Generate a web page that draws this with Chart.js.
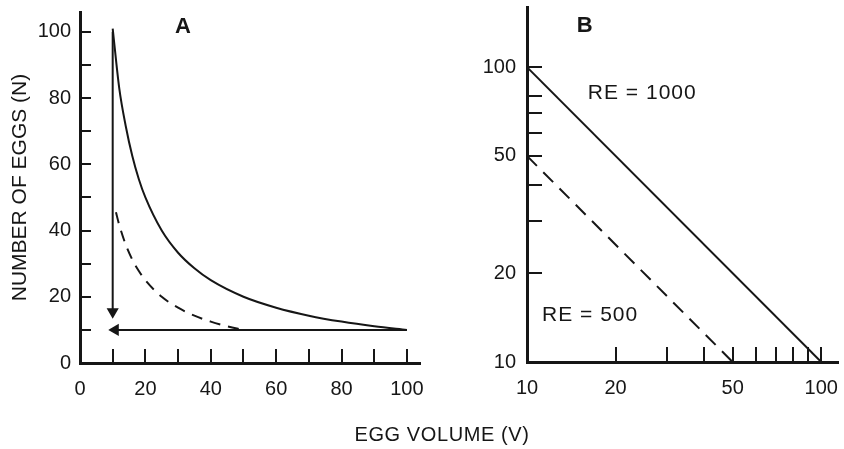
<!DOCTYPE html>
<html>
<head>
<meta charset="utf-8">
<script src="https://cdn.jsdelivr.net/npm/chart.js@4.4.0/dist/chart.umd.min.js"></script>
<style>
  body { margin: 0; background: #fff; }
  #wrap { position: relative; width: 844px; height: 449px; }
  .panel { position: absolute; top: 0; height: 449px; }
  #panelA { left: 0; width: 430px; }
  #panelB { left: 430px; width: 414px; }
  #xtitle { position: absolute; left: 0; width: 884px; top: 423px; text-align: center;
            font: 20px "Liberation Sans", Arial, sans-serif; letter-spacing: 0.6px; color: #161616; }
</style>
</head>
<body>
<div id="wrap">
  <div class="panel" id="panelA"><canvas id="chartA"></canvas></div>
  <div class="panel" id="panelB"><canvas id="chartB"></canvas></div>
  <div id="xtitle">EGG VOLUME (V)</div>
</div>
<script>
// panel A, linear axes
var volA1000 = [10, 12, 14, 16, 18, 20, 25, 30, 35, 40, 50, 60, 70, 80, 90, 100];
var eggsA1000 = [101, 83, 71.5, 62.5, 55.5, 50, 40, 33.3, 28.6, 25, 20, 16.7, 14.3, 12.5, 11.1, 10];
var volA500 = [11, 12, 14, 16, 18, 20, 25, 30, 35, 40, 45, 50];
var eggsA500 = [45.5, 41.7, 35.7, 31.2, 27.8, 25, 20, 16.7, 14.3, 12.5, 11.1, 10];
var arrowDownV = [10, 10];
var arrowDownN = [100, 15.5];
var arrowLeftV = [100, 10.8];
var arrowLeftN = [10, 10];
var ticksAX = [0, 20, 40, 60, 80, 100];
var ticksAY = [0, 20, 40, 60, 80, 100];
var marksA = [10, 20, 30, 40, 50, 60, 70, 80, 90, 100];

// panel B, log-log axes
var volB1000 = [10, 100];
var eggsB1000 = [100, 10];
var volB500 = [10, 50];
var eggsB500 = [50, 10];
var ticksB = [10, 20, 50, 100];
var marksBX = [20, 30, 40, 50, 60, 70, 80, 90, 100];
var marksBY = [20, 30, 40, 50, 60, 70, 80, 100];

var ink = '#161616';
var fontFam = '"Liberation Sans", Arial, sans-serif';

function pts(xs, ys) {
    return xs.map(function (x, i) { return { x: x, y: ys[i] }; });
}

// inward tick marks and the text inside the plot
var inkPlugin = {
    id: 'ink',
    afterDatasetsDraw: function (chart, args, opts) {
        var ctx = chart.ctx, xs = chart.scales.x, ys = chart.scales.y, a = chart.chartArea;
        ctx.save();
        ctx.strokeStyle = ink;
        ctx.lineWidth = 2;
        ctx.beginPath();
        opts.xMarks.forEach(function (v) {
            var px = Math.round(xs.getPixelForValue(v));
            ctx.moveTo(px, a.bottom);
            ctx.lineTo(px, a.bottom - opts.xLen);
        });
        opts.yMarks.forEach(function (v) {
            var py = Math.round(ys.getPixelForValue(v));
            ctx.moveTo(a.left, py);
            ctx.lineTo(a.left + opts.yLen, py);
        });
        ctx.stroke();
        ctx.fillStyle = ink;
        ctx.textBaseline = 'middle';
        opts.labels.forEach(function (l) {
            ctx.font = l.font;
            ctx.textAlign = l.align;
            ctx.letterSpacing = l.spacing || '0px';
            ctx.fillText(l.text, xs.getPixelForValue(l.x), ys.getPixelForValue(l.y));
        });
        ctx.restore();
    }
};

function axis(type, min, max, tickVals, pad, size, horizontal, title) {
    return {
        type: type,
        min: min,
        max: max,
        afterBuildTicks: function (s) {
            s.ticks = tickVals.map(function (v) { return { value: v }; });
        },
        afterFit: function (s) {
            if (horizontal) s.height = size; else s.width = size;
            s.paddingTop = s.paddingBottom = s.paddingLeft = s.paddingRight = 0;
        },
        grid: { drawOnChartArea: false, drawTicks: false },
        border: { color: ink, width: 3 },
        ticks: {
            padding: pad,
            color: ink,
            maxRotation: 0,
            autoSkip: false,
            font: { family: fontFam, size: 20 },
            callback: function (v) { return String(v); }
        },
        title: title ? {
            display: true,
            text: title,
            color: ink,
            font: { family: fontFam, size: 21 },
            padding: { top: 8, bottom: 0 }
        } : { display: false }
    };
}

var chartA = new Chart(document.getElementById('chartA'), {
    type: 'line',
    data: {
        datasets: [{
            data: pts(volA1000, eggsA1000),
            borderColor: ink,
            borderWidth: 2,
            cubicInterpolationMode: 'monotone',
            pointRadius: 0
        }, {
            data: pts(volA500, eggsA500),
            borderColor: ink,
            borderWidth: 2,
            borderDash: [11, 8],
            cubicInterpolationMode: 'monotone',
            pointRadius: 0
        }, {
            data: pts(arrowDownV, arrowDownN),
            borderColor: ink,
            borderWidth: 2,
            pointStyle: 'triangle',
            pointRadius: [0, 5],
            pointRotation: 180,
            pointBackgroundColor: ink,
            pointBorderColor: ink
        }, {
            data: pts(arrowLeftV, arrowLeftN),
            borderColor: ink,
            borderWidth: 2,
            pointStyle: 'triangle',
            pointRadius: [0, 5],
            pointRotation: 270,
            pointBackgroundColor: ink,
            pointBorderColor: ink
        }]
    },
    options: {
        responsive: true,
        maintainAspectRatio: false,
        animation: false,
        layout: { padding: { top: 12, right: 10, left: 0, bottom: 0 } },
        scales: {
            x: axis('linear', 0, 104, ticksAX, 14, 86, true),
            y: axis('linear', 0, 106, ticksAY, 9, 80, false, 'NUMBER OF EGGS (N)')
        },
        plugins: {
            legend: { display: false },
            tooltip: { enabled: false },
            ink: {
                xMarks: marksA, yMarks: marksA, xLen: 14, yLen: 11,
                labels: [{ text: 'A', x: 31.5, y: 101.5, align: 'center', font: 'bold 22px ' + fontFam }]
            }
        }
    },
    plugins: [inkPlugin]
});

var chartB = new Chart(document.getElementById('chartB'), {
    type: 'line',
    data: {
        datasets: [{
            data: pts(volB1000, eggsB1000),
            borderColor: ink,
            borderWidth: 2,
            pointRadius: 0
        }, {
            data: pts(volB500, eggsB500),
            borderColor: ink,
            borderWidth: 2,
            borderDash: [14, 9],
            pointRadius: 0
        }]
    },
    options: {
        responsive: true,
        maintainAspectRatio: false,
        animation: false,
        layout: { padding: { top: 7, right: 6, left: 0, bottom: 0 } },
        scales: {
            x: axis('logarithmic', 10, 114, ticksB, 14, 87, true),
            y: axis('logarithmic', 10, 160, ticksB, 11, 97, false)
        },
        plugins: {
            legend: { display: false },
            tooltip: { enabled: false },
            ink: {
                xMarks: marksBX, yMarks: marksBY, xLen: 15, yLen: 15,
                labels: [
                    { text: 'B', x: 15.7, y: 138, align: 'center', font: 'bold 22px ' + fontFam },
                    { text: 'RE = 1000', x: 16.1, y: 81.7, align: 'left', font: '21px ' + fontFam, spacing: '1px' },
                    { text: 'RE = 500', x: 11.25, y: 14.4, align: 'left', font: '21px ' + fontFam, spacing: '1px' }
                ]
            }
        }
    },
    plugins: [inkPlugin]
});
</script>
</body>
</html>
